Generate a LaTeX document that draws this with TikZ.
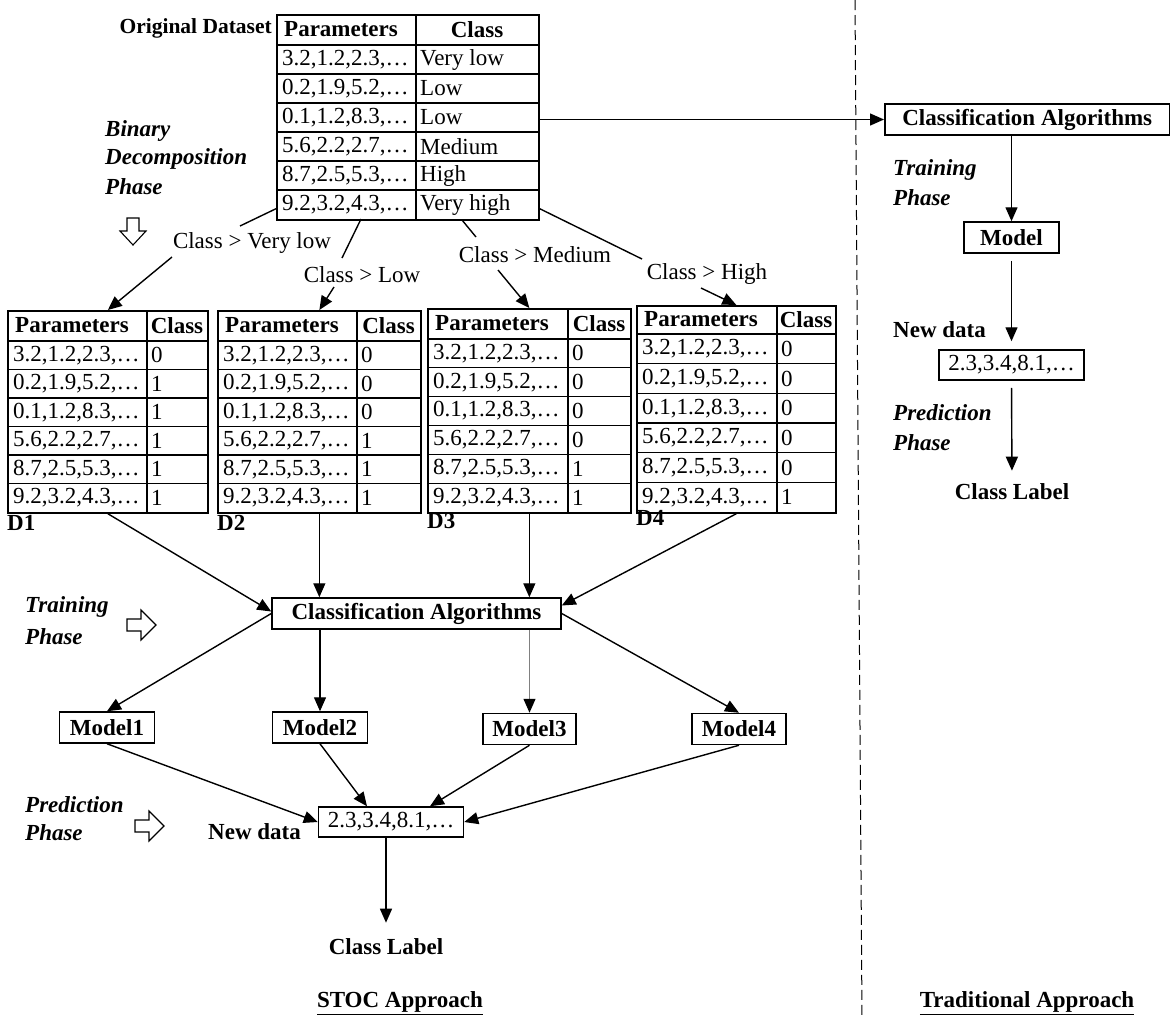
\documentclass[tikz,border=0pt]{standalone}
\usepackage{fontspec}
\setmainfont{Liberation Serif}
\usetikzlibrary{arrows.meta}
\newcommand\prm[1]{\ifcase#1\or 3.2,1.2,2.3,…\or 0.2,1.9,5.2,…\or 0.1,1.2,8.3,…\or 5.6,2.2,2.7,…\or 8.7,2.5,5.3,…\or 9.2,3.2,4.3,…\fi}
\newcommand\dtab[8]{%
  \node[tbox, minimum width={(#5-#2)*1pt}, minimum height={(#6-#3)*1pt}, anchor=north west] (#1) at (#2,#3) {};
  \draw[tline] (#4,#3) -- (#4,#6);
  \draw[tline] (#2,#7) -- (#5,#7);
  \node[hdr, anchor=west] at (#2+6,{(#3+#7)/2}) {Parameters};
  \node[hdr] at ({(#4+#5)/2},{(#3+#7)/2}) {Class};
  \foreach \c [count=\k] in {#8} {
    \pgfmathsetmacro\ya{#7+(\k-1)*(#6-#7)/6}
    \pgfmathsetmacro\yc{#7+(\k-0.5)*(#6-#7)/6}
    \ifnum\k>1 \draw[tline] (#2,\ya) -- (#5,\ya); \fi
    \node[txt, anchor=west] at (#2+4,\yc) {\prm{\k}};
    \node[txt, anchor=west] at (#4+2,\yc) {\c};
  }
}
\begin{document}
\begin{tikzpicture}[x=1pt,y=-1pt,
  txt/.style={font=\fontsize{23}{27}\selectfont, inner sep=2pt},
  hdr/.style={font=\fontsize{23}{27}\selectfont\bfseries, inner sep=2pt},
  lbl/.style={font=\fontsize{23}{27}\selectfont\bfseries\itshape, anchor=west, inner sep=0pt},
  box/.style={draw, line width=1.5pt, font=\fontsize{23}{27}\selectfont\bfseries, inner sep=2pt},
  boxr/.style={draw, line width=1.5pt, font=\fontsize{23}{27}\selectfont, inner sep=2pt},
  arr/.style={line width=1.4pt, -{Triangle[length=14pt,width=12pt]}},
  ln/.style={line width=1.4pt},
  tline/.style={line width=1.3pt},
  tbox/.style={draw, line width=1.7pt, inner sep=0pt},
  hollow/.style={draw, line width=1.1pt, fill=white},
  sep/.style={line width=1pt, dash pattern=on 10pt off 5pt}
]
\useasboundingbox (0,0) rectangle (1170,1018);

% separator
\coordinate (dtop) at (855,0);
\coordinate (dbot) at (862,1018);
\draw[sep] (dtop) -- (dbot);

% original dataset
\node[hdr, anchor=east, font=\fontsize{21.5}{25}\selectfont\bfseries] (origlab) at (274,28) {Original Dataset};
\dtab{orig}{276}{14}{416}{538}{219}{45}{Very low,Low,Low,Medium,High,Very high}

% decomposed tables
\dtab{d1}{7}{310}{147}{207}{512}{341}{0,1,1,1,1,1}
\dtab{d2}{217}{310}{357}{420}{512}{341}{0,0,0,1,1,1}
\dtab{d3}{427}{308}{568}{630}{512}{339}{0,0,0,0,1,1}
\dtab{d4}{636}{305}{777}{835}{512}{334}{0,0,0,0,0,1}
\node[hdr, anchor=west] (d1lab) at (5,523) {D1};
\node[hdr, anchor=west] (d2lab) at (215,523) {D2};
\node[hdr, anchor=west] (d3lab) at (425,521) {D3};
\node[hdr, anchor=west] (d4lab) at (634,518) {D4};

% decomposition connectors (upper parts)
\coordinate (c1a) at (240,226);
\coordinate (c1b) at (172,257);
\draw[ln] ([yshift=12pt]orig.south west) -- (c1a);
\coordinate (c2o) at (361,219);
\coordinate (c2a) at (342,258);
\coordinate (c2b) at (334,287);
\draw[ln] (c2o) -- (c2a);
\coordinate (c3o) at (462,220);
\coordinate (c3a) at (476,237);
\coordinate (c3b) at (498,270);
\draw[ln] (c3o) -- (c3a);
\coordinate (c4a) at (642,259);
\coordinate (c4b) at (701,288);
\draw[ln] ([yshift=12pt]orig.south east) -- (c4a);
% labels
\node[txt, fill=white, inner sep=1pt] (lab1) at (252,243) {Class > Very low};
\node[txt, fill=white, inner sep=1pt] (lab2) at (362,275) {Class > Low};
\node[txt, fill=white, inner sep=1pt] (lab3) at (535,255) {Class > Medium};
\node[txt, fill=white, inner sep=1pt] (lab4) at (707,274) {Class > High};
% lower parts
\draw[arr] (c1b) -- (d1.north);
\draw[arr] (c2b) -- (d2.north);
\draw[arr] (c3b) -- (d3.north);
\draw[arr] (c4b) -- (d4.north);

% left phase labels
\node[lbl] at (105,131) {Binary};
\node[lbl] at (105,159) {Decomposition};
\node[lbl] at (105,187) {Phase};
\begin{scope}[shift={(133,218)}]
  \draw[hollow] (-6,0) -- (6,0) -- (6,13) -- (13,13) -- (0,27) -- (-13,13) -- (-6,13) -- cycle;
\end{scope}
\node[lbl] at (25,607) {Training};
\node[lbl] at (25,637) {Phase};
\begin{scope}[shift={(127,625)}]
  \draw[hollow] (0,-6) -- (14,-6) -- (14,-15) -- (29,0) -- (14,15) -- (14,6) -- (0,6) -- cycle;
\end{scope}
\node[lbl] at (25,805) {Prediction};
\node[lbl] at (25,833) {Phase};
\begin{scope}[shift={(135,826)}]
  \draw[hollow] (0,-6) -- (14,-6) -- (14,-15) -- (29,0) -- (14,15) -- (14,6) -- (0,6) -- cycle;
\end{scope}

% middle training
\node[box, minimum width=289, minimum height=31] (mca) at (416.5,613.5) {Classification Algorithms};
\draw[arr] (d1.south) -- ([yshift=2pt]mca.west);
\draw[arr] (d2.south) -- (d2.south |- mca.north);
\draw[arr] (d3.south) -- (d3.south |- mca.north);
\draw[arr] (d4.south) -- ([yshift=8pt]mca.east);

\node[box, minimum width=95, minimum height=31] (m1) at (107,727.5) {Model1};
\node[box, minimum width=95, minimum height=31] (m2) at (320,727.5) {Model2};
\node[box, minimum width=93, minimum height=31] (m3) at (529.5,729) {Model3};
\node[box, minimum width=94, minimum height=31] (m4) at (739,729) {Model4};
\draw[arr] (mca.west) -- (m1.north);
\draw[arr] (mca.south -| m2.north) -- (m2.north);
\draw[line width=1.3pt, draw=gray, -{Triangle[length=14pt,width=12pt,color=black]}] (mca.south -| m3.north) -- (m3.north);
\draw[arr] (mca.east) -- (m4.north);

% prediction
\node[boxr, minimum width=145, minimum height=30] (nd) at (391,822) {2.3,3.4,8.1,…};
\node[hdr, anchor=west, inner sep=0pt] (ndlab) at (208,832) {New data};
\draw[arr] (m1.south) -- (nd.west);
\draw[arr] (m2.south) -- ([xshift=-24pt]nd.north);
\draw[arr] (m3.south) -- ([xshift=39pt]nd.north);
\draw[arr] (m4.south) -- (nd.east);
\node[hdr] (cl) at (386,947) {Class Label};
\draw[arr, shorten >=14pt] (cl.north |- nd.south) -- (cl.north);

% traditional approach
\node[box, minimum width=285, minimum height=31, anchor=west] (rca) at (884,119.5) {Classification Algorithms};
\draw[arr] (orig.east |- rca.west) -- (rca.west);
\node[box, minimum width=95, minimum height=31] (rmod) at (1011.5,237.5) {Model};
\draw[arr] (rmod.north |- rca.south) -- (rmod.north);
\node[lbl] at (893,170) {Training};
\node[lbl] at (893,198) {Phase};
\node[hdr, anchor=west, inner sep=0pt] (rndlab) at (893,330) {New data};
\node[boxr, minimum width=145, minimum height=30] (rnd) at (1011.5,365) {2.3,3.4,8.1,…};
\draw[arr, shorten <=7pt, shorten >=8pt] (rmod.south) -- (rnd.north);
\node[lbl] at (893,413) {Prediction};
\node[lbl] at (893,443) {Phase};
\node[hdr] (rcl) at (1012,492) {Class Label};
\draw[arr, shorten <=7pt, shorten >=11pt] (rnd.south) -- (rcl.north);

% titles
\node[hdr] (stoc) at (400,1003) {\underline{STOC Approach}};
\node[hdr] (trad) at (1027,1003) {\underline{Traditional Approach}};
\end{tikzpicture}
\end{document}
